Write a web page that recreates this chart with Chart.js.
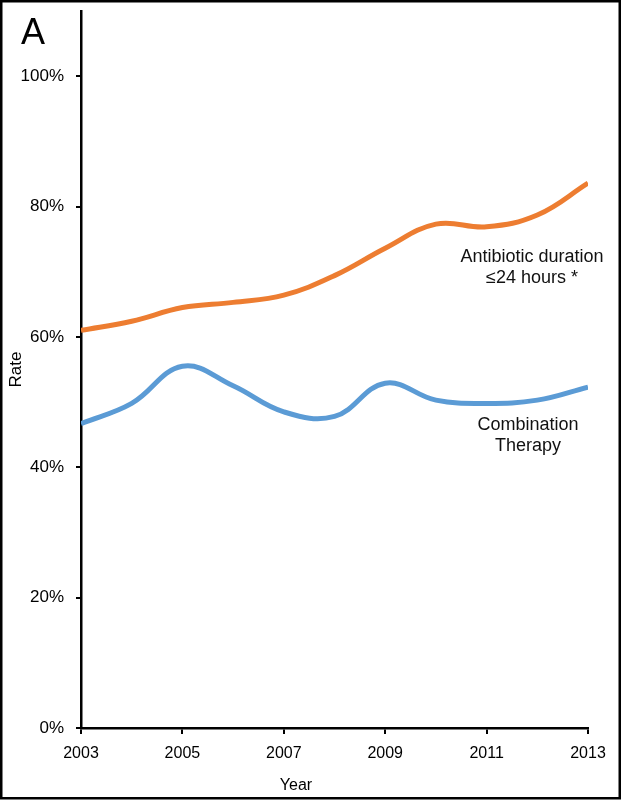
<!DOCTYPE html>
<html>
<head>
<meta charset="utf-8">
<script src="https://cdn.jsdelivr.net/npm/chart.js@4.4.1/dist/chart.umd.min.js"></script>
<style>
  html, body { margin: 0; padding: 0; background: #fff; }
  #wrap { width: 621px; height: 803px; position: relative; }
</style>
</head>
<body>
<div id="wrap"><canvas id="rateChart"></canvas></div>
<script>
// Rates by year
const years = [2003, 2004, 2005, 2006, 2007, 2008, 2009, 2010, 2011, 2012, 2013];
const antibioticDuration = [61.0, 62.4, 64.5, 65.3, 66.4, 69.4, 73.6, 77.3, 76.9, 78.7, 83.6];
const combinationTherapy = [46.7, 49.8, 55.5, 52.5, 48.5, 47.8, 52.9, 50.3, 49.8, 50.3, 52.3];
const xTickYears = [2003, 2005, 2007, 2009, 2011, 2013];
const yTickValues = [0, 20, 40, 60, 80, 100];

const FONT = "'Liberation Sans', Arial, sans-serif";

// Panel letter, frame, series labels and x title
const decorations = {
  id: 'decorations',
  afterDraw(chart) {
    const ctx = chart.ctx;
    ctx.save();
    ctx.strokeStyle = '#000';
    ctx.lineWidth = 2.5;
    ctx.strokeRect(1.25, 1.25, 618.5, 797);

    ctx.fillStyle = '#000';
    ctx.textBaseline = 'alphabetic';
    ctx.textAlign = 'left';
    ctx.font = '36px ' + FONT;
    ctx.fillText('A', 21, 44);

    ctx.textAlign = 'center';
    ctx.font = '16px ' + FONT;
    ctx.fillText('Year', 296, 790);

    ctx.font = '18px ' + FONT;
    ctx.fillStyle = '#111';
    ctx.fillText('Antibiotic duration', 532, 262);
    ctx.fillText('\u226424 hours *', 532, 283);
    ctx.fillText('Combination', 528, 430);
    ctx.fillText('Therapy', 528, 451);
    ctx.restore();
  }
};

const chart = new Chart(document.getElementById('rateChart'), {
  type: 'line',
  data: {
    datasets: [{
      label: 'Antibiotic duration \u226424 hours *',
      data: years.map((y, i) => ({x: y, y: antibioticDuration[i]})),
      borderColor: '#ED7D31',
      borderWidth: 5,
      pointRadius: 0,
      tension: 0.4,
      fill: false
    }, {
      label: 'Combination Therapy',
      data: years.map((y, i) => ({x: y, y: combinationTherapy[i]})),
      borderColor: '#5B9BD5',
      borderWidth: 5,
      pointRadius: 0,
      tension: 0.4,
      fill: false
    }]
  },
  options: {
    responsive: true,
    maintainAspectRatio: false,
    animation: false,
    layout: { padding: { left: 0, right: 33, top: 11, bottom: 0 } },
    plugins: {
      legend: { display: false },
      tooltip: { enabled: false }
    },
    scales: {
      x: {
        type: 'linear',
        min: 2003,
        max: 2013,
        afterBuildTicks: (scale) => { scale.ticks = xTickYears.map(v => ({value: v})); },
        afterFit: (scale) => { scale.height = 75; scale.paddingLeft = 0; scale.paddingRight = 0; },
        grid: { display: true, drawOnChartArea: false, drawTicks: true, tickLength: 6, color: '#000', lineWidth: 2 },
        border: { display: true, color: '#000', width: 2.5 },
        ticks: {
          color: '#000',
          padding: 10,
          maxRotation: 0,
          font: { family: FONT, size: 16 },
          callback: (v) => String(v)
        }
      },
      y: {
        min: 0,
        max: 110,
        afterBuildTicks: (scale) => { scale.ticks = yTickValues.map(v => ({value: v})); },
        afterFit: (scale) => { scale.width = 81; scale.paddingTop = 0; scale.paddingBottom = 0; },
        grid: { display: true, drawOnChartArea: false, drawTicks: true, tickLength: 5, color: '#000', lineWidth: 2 },
        border: { display: true, color: '#000', width: 2.5 },
        title: {
          display: true,
          text: 'Rate',
          color: '#000',
          padding: { top: 6, bottom: 0 },
          font: { family: FONT, size: 17 }
        },
        ticks: {
          color: '#000',
          padding: 12,
          font: { family: FONT, size: 17 },
          callback: (v) => v + '%'
        }
      }
    }
  },
  plugins: [decorations]
});
</script>
</body>
</html>
